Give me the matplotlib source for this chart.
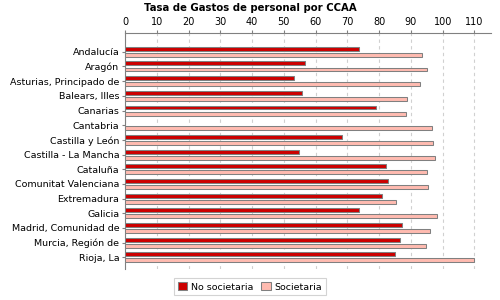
import matplotlib
matplotlib.use("Agg")
import matplotlib.pyplot as plt
import numpy as np

# Datos
regiones = [
    "Andalucía", "Aragón", "Asturias, Principado de", "Balears, Illes",
    "Canarias", "Cantabria", "Castilla y León", "Castilla - La Mancha",
    "Cataluña", "Comunitat Valenciana", "Extremadura", "Galicia",
    "Madrid, Comunidad de", "Murcia, Región de", "Rioja, La",
]
no_societaria = [73.5, 56.8, 53.3, 55.8, 79.1, 0, 68.4, 54.9,
                 82.0, 82.9, 81.0, 73.8, 87.3, 86.7, 85.1]
societaria = [93.6, 95.2, 92.7, 88.9, 88.6, 96.5, 96.8, 97.7,
              95.2, 95.5, 85.4, 98.3, 96.1, 94.6, 110.0]
ticks_x = list(range(0, 120, 10))

fig = plt.figure(figsize=(5, 3), dpi=100)
ax = fig.add_axes([0.25, 0.103, 0.732, 0.787])

y = np.arange(len(regiones))
h = 0.27
ax.barh(y - 0.205, no_societaria, height=h, color="#CC0000",
        edgecolor="#808080", linewidth=0.75, label="No societaria", zorder=3)
ax.barh(y + 0.205, societaria, height=h, color="#FFBBB0",
        edgecolor="#808080", linewidth=0.75, label="Societaria", zorder=3)

ax.set_xlim(0, 115.2)
ax.set_ylim(len(regiones) - 0.2, -1.28)
ax.xaxis.tick_top()
ax.set_xticks(ticks_x)
ax.set_yticks(y)
ax.set_yticklabels(regiones)
ax.tick_params(axis="x", labelsize=7, length=2, pad=2, color="#808080")
ax.tick_params(axis="y", labelsize=6.8, length=2, pad=2, color="#808080")

for s in ["right", "bottom"]:
    ax.spines[s].set_visible(False)
for s in ["top", "left"]:
    ax.spines[s].set_color("#808080")

ax.grid(axis="x", linestyle=(0, (3, 3)), color="#D0D0D0", linewidth=0.8, zorder=0)

fig.suptitle("Tasa de Gastos de personal por CCAA", fontsize=7.3,
             fontweight="bold", y=0.99)

leg = fig.legend(loc="lower center", bbox_to_anchor=(0.5, 0.0), ncol=2,
                 fontsize=6.8, frameon=True, fancybox=False, handlelength=1,
                 handleheight=1, handletextpad=0.4, columnspacing=0.8,
                 borderpad=0.4)
leg.get_frame().set_edgecolor("#C8C8C8")
leg.get_frame().set_linewidth(0.8)

fig.savefig("out.png", dpi=100)
